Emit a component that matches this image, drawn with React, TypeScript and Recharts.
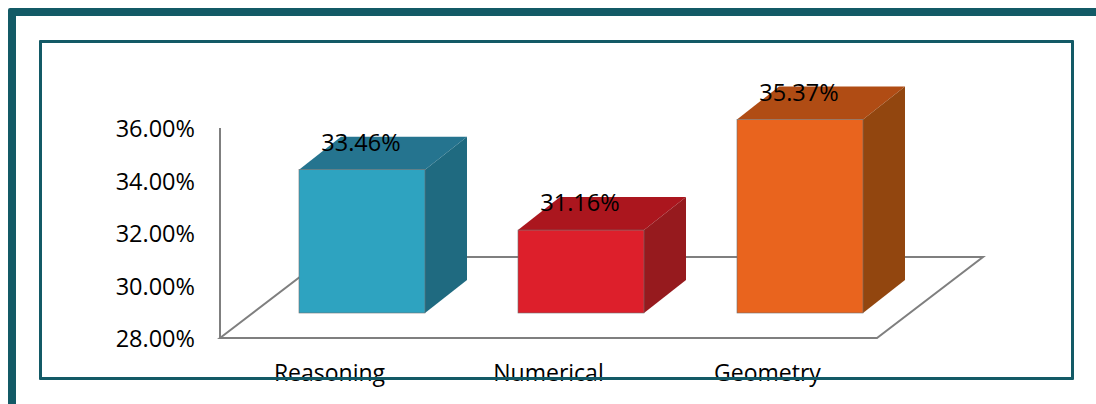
import React from 'react';
import { BarChart, Bar, XAxis, YAxis, LabelList, usePlotArea } from 'recharts';

const CATEGORIES = ['Reasoning', 'Numerical', 'Geometry'];
const SCORES = [33.46, 31.16, 35.37];
const Y_TICKS = [28, 30, 32, 34, 36];

const FRONT_COLORS = ['#2ea3c0', '#dd1f2b', '#e9641e'];
const TOP_COLORS = ['#25748f', '#ab161e', '#b04c14'];
const SIDE_COLORS = ['#1f6a80', '#961a1e', '#92460f'];

const FRAME_COLOR = '#135a66';
const AXIS_COLOR = '#7f7f7f';
const FONT = '"Open Sans", sans-serif';

const data = CATEGORIES.map((name, i) => ({ name, score: SCORES[i] }));

// the bars stand part way back on the floor, so shift them off the axis plane
const SHIFT_X = 32;
const SHIFT_Y = -25;
const BAR_DEPTH_X = 42;
const BAR_DEPTH_Y = -33;
const FLOOR_DEPTH_X = 106;
const FLOOR_DEPTH_Y = -81;

const Floor = () => {
  const plot = usePlotArea();
  if (!plot) return null;
  const left = plot.x;
  const right = plot.x + plot.width;
  const bottom = plot.y + plot.height;
  const points = [
    [left, bottom],
    [left + FLOOR_DEPTH_X, bottom + FLOOR_DEPTH_Y],
    [right + FLOOR_DEPTH_X, bottom + FLOOR_DEPTH_Y],
    [right, bottom],
  ];
  return (
    <polygon
      points={points.map(p => p.join(',')).join(' ')}
      fill="#fff"
      stroke={AXIS_COLOR}
      strokeWidth={2}
    />
  );
};

const Bar3D = (props: any) => {
  const { x, y, width, height, index } = props;
  const x0 = x + SHIFT_X;
  const y0 = y + SHIFT_Y;
  const x1 = x0 + width;
  const y1 = y0 + height;
  const dx = BAR_DEPTH_X;
  const dy = BAR_DEPTH_Y;
  return (
    <g>
      <polygon
        points={`${x0},${y0} ${x0 + dx},${y0 + dy} ${x1 + dx},${y0 + dy} ${x1},${y0}`}
        fill={TOP_COLORS[index]}
      />
      <polygon
        points={`${x1},${y0} ${x1 + dx},${y0 + dy} ${x1 + dx},${y1 + dy} ${x1},${y1}`}
        fill={SIDE_COLORS[index]}
      />
      <rect x={x0} y={y0} width={width} height={height} fill={FRONT_COLORS[index]} stroke="#6f6f6f" strokeWidth={0.6} />
    </g>
  );
};

const ValueLabel = (props: any) => {
  const { x, y, width, value } = props;
  return (
    <text
      x={x + width / 2 + SHIFT_X - 1}
      y={y + SHIFT_Y - 19}
      textAnchor="middle"
      fontFamily={FONT}
      fontSize={23.5}
      fill="#000"
    >
      {`${value.toFixed(2)}%`}
    </text>
  );
};

export default function App() {
  return (
    <div style={{ position: 'fixed', left: 0, top: 0, width: 1096, height: 404, overflow: 'hidden', background: '#fff' }}>
      <div
        style={{
          position: 'absolute',
          left: 8,
          top: 8,
          width: 1300,
          height: 600,
          border: `8px solid ${FRAME_COLOR}`,
          borderRadius: 2,
        }}
      />
      <div style={{ position: 'absolute', left: 0, top: 0 }}>
        <BarChart
          width={1096}
          height={404}
          data={data}
          margin={{ top: 128, right: 219, bottom: 0, left: 100 }}
          barSize={126}
        >
          <Floor />
          <XAxis
            dataKey="name"
            height={66}
            axisLine={false}
            tickLine={false}
            tickSize={0}
            tickMargin={27}
            interval={0}
            tick={{ fontFamily: FONT, fontSize: 23, fill: '#000' }}
          />
          <YAxis
            width={120}
            domain={[28, 36]}
            ticks={Y_TICKS}
            tickFormatter={(v: number) => `${v.toFixed(2)}%`}
            tickLine={false}
            tickSize={0}
            tickMargin={25}
            axisLine={{ stroke: AXIS_COLOR, strokeWidth: 2 }}
            tick={{ fontFamily: FONT, fontSize: 23.5, fill: '#000', dy: 1 }}
          />
          <Bar dataKey="score" shape={<Bar3D />} isAnimationActive={false}>
            <LabelList dataKey="score" content={<ValueLabel />} />
          </Bar>
        </BarChart>
      </div>
      <div
        style={{
          position: 'absolute',
          left: 39,
          top: 40,
          width: 1029,
          height: 334,
          border: `3px solid ${FRAME_COLOR}`,
          borderRadius: 1,
          pointerEvents: 'none',
        }}
      />
    </div>
  );
}
